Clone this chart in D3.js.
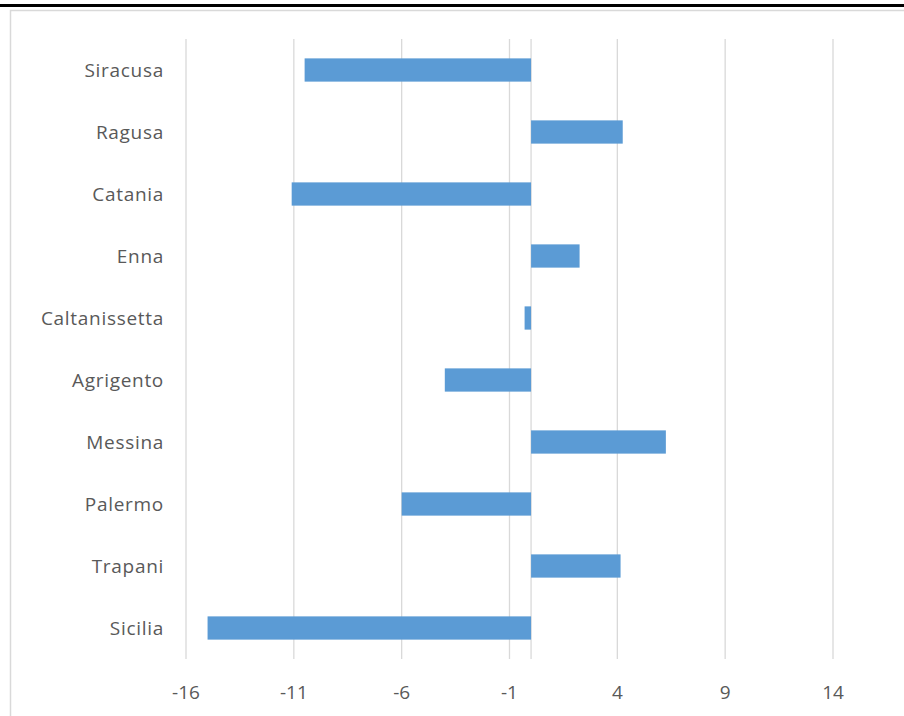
<!DOCTYPE html>
<html>
<head>
<meta charset="utf-8">
<script src="https://cdn.jsdelivr.net/npm/d3@7"></script>
<style>
  html, body { margin: 0; padding: 0; background: #fff; }
  svg { display: block; }
</style>
</head>
<body>
<div id="chart"></div>
<script>
// province names, top to bottom
const provinces = ['Siracusa', 'Ragusa', 'Catania', 'Enna', 'Caltanissetta',
  'Agrigento', 'Messina', 'Palermo', 'Trapani', 'Sicilia'];
const values = [-10.5, 4.25, -11.1, 2.25, -0.3, -4.0, 6.25, -6.0, 4.15, -15.0];
const tickValues = [-16, -11, -6, -1, 4, 9, 14];

const W = 904, H = 716;
const margin = { top: 39, right: 71, bottom: 57, left: 186 };

const svg = d3.select('#chart')
  .append('svg')
  .attr('width', W)
  .attr('height', H);

// black rule at the very top
svg.append('rect')
  .attr('x', 0).attr('y', 4)
  .attr('width', W).attr('height', 3)
  .attr('fill', '#000');

// chart frame (cut off on the right and bottom)
svg.append('rect')
  .attr('x', 10.5).attr('y', 10.5)
  .attr('width', W + 20).attr('height', H + 20)
  .attr('fill', 'none')
  .attr('stroke', '#d9d9d9')
  .attr('stroke-width', 1.5);

const x = d3.scaleLinear()
  .domain([-16, 14])
  .range([margin.left, W - margin.right]);

const y = d3.scaleBand()
  .domain(provinces)
  .range([margin.top, H - margin.bottom])
  .paddingInner(0.625)
  .paddingOuter(0.3125);

// gridlines
svg.append('g')
  .selectAll('line')
  .data(tickValues)
  .enter().append('line')
  .attr('x1', d => x(d)).attr('x2', d => x(d))
  .attr('y1', margin.top).attr('y2', H - margin.bottom)
  .attr('stroke', '#d9d9d9')
  .attr('stroke-width', 1.3);

// vertical axis line at zero
svg.append('line')
  .attr('x1', x(0)).attr('x2', x(0))
  .attr('y1', margin.top).attr('y2', H - margin.bottom)
  .attr('stroke', '#d9d9d9')
  .attr('stroke-width', 1.3);

// bars
svg.append('g')
  .selectAll('rect')
  .data(provinces)
  .enter().append('rect')
  .attr('x', (d, i) => Math.min(x(0), x(values[i])))
  .attr('y', d => y(d))
  .attr('width', (d, i) => Math.abs(x(values[i]) - x(0)))
  .attr('height', y.bandwidth())
  .attr('fill', '#5b9bd5');

// category labels
svg.append('g')
  .selectAll('text')
  .data(provinces)
  .enter().append('text')
  .attr('x', 164)
  .attr('y', d => y(d) + y.bandwidth() / 2)
  .attr('dy', '0.35em')
  .attr('text-anchor', 'end')
  .attr('fill', '#595959')
  .style('font-family', '"Open Sans", sans-serif')
  .style('font-size', '19px')
  .style('letter-spacing', '0.7px')
  .text(d => d);

// x tick labels
svg.append('g')
  .selectAll('text')
  .data(tickValues)
  .enter().append('text')
  .attr('x', d => x(d))
  .attr('y', 692)
  .attr('dy', '0.35em')
  .attr('text-anchor', 'middle')
  .attr('fill', '#595959')
  .style('font-family', '"Open Sans", sans-serif')
  .style('font-size', '19px')
  .text(d => d);
</script>
</body>
</html>
